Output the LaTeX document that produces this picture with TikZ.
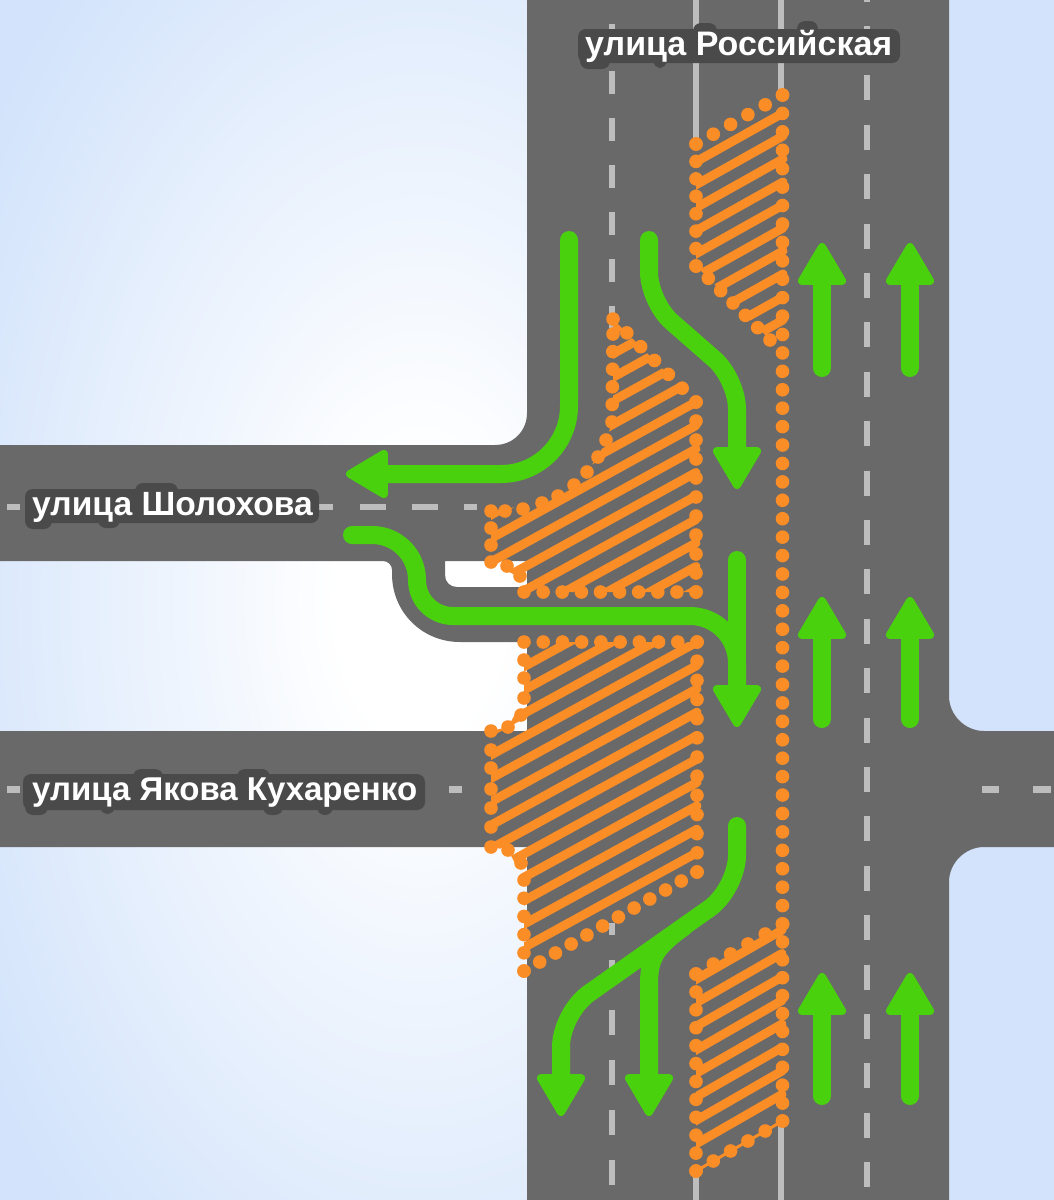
\documentclass[tikz,border=0pt]{standalone}
\usepackage{fontspec}
\setmainfont{Liberation Sans}
\usetikzlibrary{calc,arrows.meta}

\definecolor{skyblue}{HTML}{D2E3FB}
\definecolor{asphalt}{HTML}{696969}
\definecolor{lanegray}{HTML}{BDBDBD}
\definecolor{hatchorange}{HTML}{FB8D27}
\definecolor{flowgreen}{HTML}{4AD10E}
\definecolor{halogray}{HTML}{4A4A4A}

\pgfdeclareradialshading{glow}{\pgfpoint{0bp}{0bp}}{
  color(0bp)=(white); color(4bp)=(white); color(25bp)=(skyblue); color(50bp)=(skyblue)}

\newcommand\dotrow[3]{\foreach \k in {0,...,#3} \fill[hatchorange] ($(#1)!{\k/#3}!(#2)$) circle[radius=6.8pt];}

\begin{document}
\begin{tikzpicture}[
    x=1pt, y=-1pt,
    lane/.style={lanegray, line width=6.5pt},
    stripe/.style={hatchorange, line width=9pt, line cap=round},
    flow/.style={flowgreen, line width=18pt, line cap=round, line join=round},
    flowarrow/.style={flow, -{Triangle[length=46pt, width=52pt, round, line width=8pt]}},
    halo/.style={halogray, rounded corners=8pt},
    street/.style={anchor=base west, inner sep=0pt, text=white, font=\fontsize{33}{36}\selectfont\bfseries}
]

\useasboundingbox (0,0) rectangle (1054,1200);
\clip (0,0) rectangle (1054,1200);

% background
\fill[skyblue] (0,0) rectangle (1054,1200);
\shade[shading=glow] (420,600) ellipse [x radius=520, y radius=850];

% roads
\fill[asphalt, even odd rule]
    (527,0) -- (527,413) .. controls (527,431) and (513,445) .. (495,445)
    -- (0,445) -- (0,561) -- (383,561) .. controls (388,561) and (392,565) .. (392,570)
    -- (392,574) .. controls (392,612) and (422,642) .. (460,642)
    -- (527,642) -- (527,731) -- (0,731) -- (0,847) -- (527,847) -- (527,1200)
    -- (949,1200) -- (949,882) .. controls (949,863) and (965,847) .. (984,847)
    -- (1054,847) -- (1054,731) -- (984,731) .. controls (965,731) and (949,715) .. (949,696)
    -- (949,0) -- cycle
    (445,561) -- (445,575) .. controls (445,582) and (450,587) .. (457,587)
    -- (527,587) -- (527,561) -- cycle;

% lane markings
\draw[lane] (696,0) -- (696,140);
\draw[lane] (781,0) -- (781,95);
\draw[lane] (696,1175) -- (696,1200);
\draw[lane] (781,1125) -- (781,1200);
\foreach \y in {-23,24,71,118,165,212,259,306}
    \draw[lane] (612,\y) -- (612,\y+23);
\draw[lane] (612,923) -- (612,935);
\foreach \y in {960,1010,1060,1110,1160}
    \draw[lane] (612,\y) -- (612,\y+25);
\foreach \k in {-1,0,...,23}
    \draw[lane] (867,26+49.4*\k) -- (867,51+49.4*\k);
\foreach \a/\b in {7/20,319/333,360/386,412/438,464/477}
    \draw[lane] (\a,507) -- (\b,507);
\foreach \a/\b in {7/20,449/462,982/999,1033/1051}
    \draw[lane] (\a,789.5) -- (\b,789.5);

% top island
\begin{scope}
    \clip (696,144) -- (789,92) -- (789,345) -- (770,340) -- (696,266) -- cycle;
    \foreach \k in {0,...,9}
        \draw[stripe] (783,113+23*\k) -- (680,113+23*\k+57.7);
\end{scope}
\dotrow{782.5,95}{696,144}{5}
\dotrow{696,144}{696,266}{7}
\dotrow{696,266}{770,340}{6}
\dotrow{782.5,95}{782.5,924}{45}

% upper median
\begin{scope}
    \clip (613,319) -- (613,420) -- (606,440) -- (598,457) -- (575,485) -- (542,503)
        -- (491,511) -- (491,562) -- (524,580) -- (524,592) -- (703,592) -- (703,402) -- (696,402) -- cycle;
    \foreach \k in {-5,...,8}
        \draw[stripe] (696,402+23.5*\k) -- (480,402+23.5*\k+119);
\end{scope}
\dotrow{613,319}{696,402}{6}
\dotrow{613,334}{612,422}{5}
\dotrow{696,402}{696,592}{10}
\dotrow{696,592}{524,592}{9}
\foreach \x/\y in {606/440,598/457,587/472,574/485,558/496,542/503,523/509,505/511,491/511,
    491/528,491/545,491/562,507/566,520/576}
    \fill[hatchorange] (\x,\y) circle[radius=6.8pt];

% lower median
\begin{scope}
    \clip (524,642) -- (703,642) -- (703,868) -- (524,971) -- (524,880) -- (508,850) -- (491,847)
        -- (491,731) -- (508,727) -- (524,698) -- cycle;
    \foreach \k in {-3,...,9}
        \draw[stripe] (697,642+23.4*\k) -- (480,642+23.4*\k+119);
\end{scope}
\dotrow{524,642}{697,642}{9}
\dotrow{697,642}{697,872}{12}
\dotrow{697,872}{524,971}{11}
\dotrow{524,971}{524,880}{5}
\foreach \x/\y in {521/863,508/850,491/847,491/827,491/808,491/789,491/768,491/750,491/731,
    508/727,521/715,524/698,524/678,524/660}
    \fill[hatchorange] (\x,\y) circle[radius=6.8pt];

% bottom island
\begin{scope}
    \clip (696,974) -- (789,921) -- (789,1121) -- (696,1171) -- cycle;
    \foreach \k in {0,...,7}
        \draw[stripe] (782,930+23.5*\k) -- (680,930+23.5*\k+58.6);
\end{scope}
\draw[hatchorange, line width=3pt] (782.5,1121) -- (696,1171);
\dotrow{782.5,924}{696,974}{5}
\dotrow{696,974}{696,1171}{11}
\dotrow{782.5,924}{782.5,1121}{11}
\dotrow{782.5,1121}{696,1171}{5}

% through traffic
\foreach \x in {822,910} {
    \draw[flowarrow] (\x,368) -- (\x,243);
    \draw[flowarrow] (\x,719) -- (\x,597);
    \draw[flowarrow] (\x,1096) -- (\x,973);
}

% turning traffic
\draw[flowarrow, rounded corners=68pt] (569,240) -- (569,474) -- (346,474);
\draw[flowarrow, rounded corners=30pt] (649,240) -- (649,302) -- (737,379) -- (737,489);
\draw[flow] (352,535) -- (372,535) .. controls (397,535) and (417,555) .. (417,580)
    .. controls (417,600) and (433,616) .. (453,616) -- (690,616)
    .. controls (716,616) and (737,637) .. (737,663) -- (737,690);
\draw[flowarrow] (737,560) -- (737,727);
\draw[flowarrow, rounded corners=34pt] (737,826) -- (737,889) -- (561,1013) -- (561,1116);
\draw[flowarrow] (684,927) .. controls (654,948) and (649,960) .. (649,985) -- (649,1116);

% street names
\foreach \a/\b/\c/\d in {578/29/900/63, 693/23/717/40, 797/21/818/40, 580/50/610/69, 653/50/667/68,
    25/489/319/523, 135/483/178/500, 25/510/52/529, 98/510/120/528,
    23/774/425/810, 133/769/163/785, 237/769/270/785, 25/795/48/815, 100/795/115/814, 263/795/283/815, 317/795/333/815}
    \fill[halo] (\a,\b) rectangle (\c,\d);
\node[street, font=\fontsize{34}{36}\selectfont\bfseries] (rossiyskaya) at (585,55) {улица Российская};
\node[street, font=\fontsize{33.6}{36}\selectfont\bfseries] (sholokhova) at (32,515) {улица Шолохова};
\node[street] (kukharenko) at (32,800) {улица Якова Кухаренко};

\end{tikzpicture}
\end{document}
